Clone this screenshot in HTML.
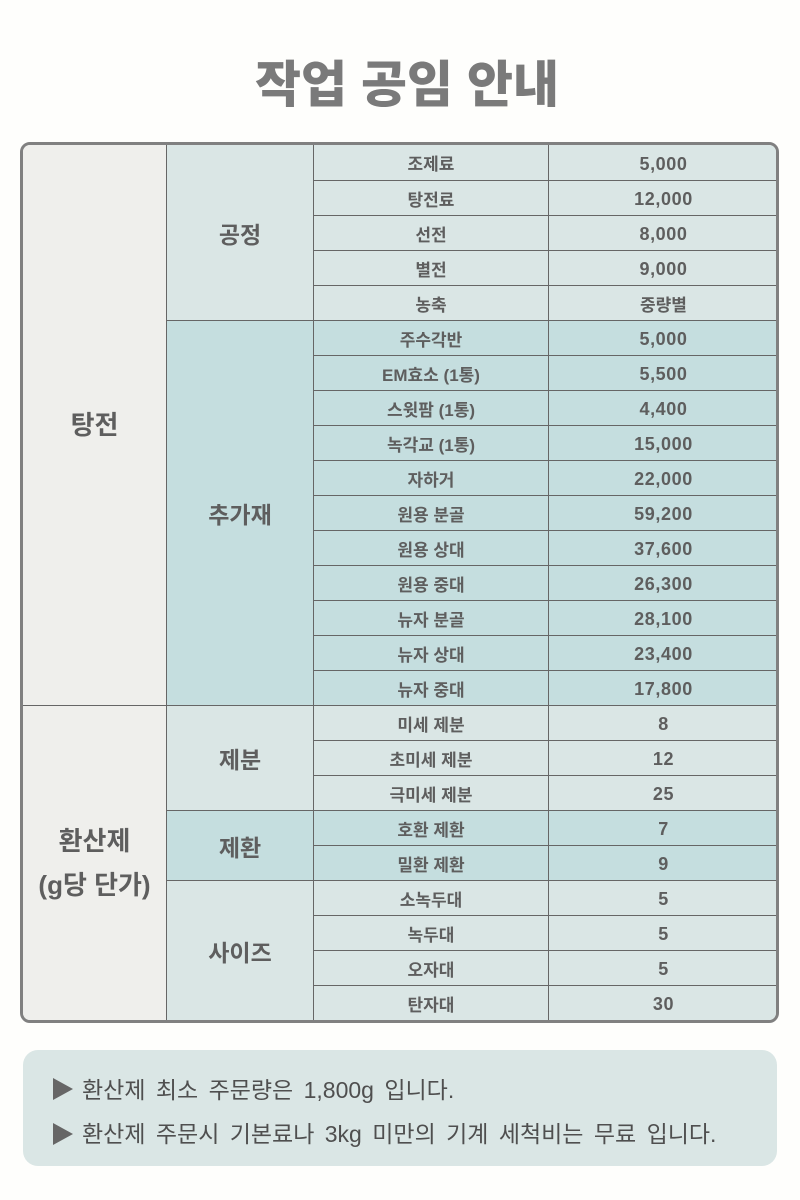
<!DOCTYPE html>
<html lang="ko">
<head>
<meta charset="utf-8">
<style>
  html,body{margin:0;padding:0;}
  body{width:800px;height:1200px;background:#fefefc;position:relative;overflow:hidden;
       font-family:"Liberation Sans","Noto Sans CJK KR",sans-serif;color:#5e5e5e;}
  .title{position:absolute;left:0;top:46px;width:800px;height:70px;line-height:70px;
         text-align:center;padding-left:14px;box-sizing:border-box;
         font-family:"Noto Sans CJK KR",sans-serif;font-weight:900;font-size:50px;color:#7a7a7a;}
  .tbl{position:absolute;left:20px;top:142px;width:759px;height:881px;box-sizing:border-box;
       border:3px solid #808080;border-radius:10px;overflow:hidden;background:#efefec;}
  .c{position:absolute;box-sizing:border-box;display:flex;align-items:center;justify-content:center;
     text-align:center;font-weight:700;font-size:17px;color:#5e5e5e;}
  .v{font-size:18px;letter-spacing:0.6px;padding-top:3px;}
  .g1{background:#efefec;font-size:26px;line-height:44px;}
  .g2{font-size:23px;}
  .lt{background:#dae6e5;}
  .dk{background:#c5dedf;}
  .bl{border-left:1px solid #666;}
  .bt{border-top:1px solid #666;}
  .note{position:absolute;left:23px;top:1050px;width:754px;height:116px;background:#dae6e5;border-radius:15px;}
  .tri{position:absolute;width:0;height:0;border-left:20px solid #666;border-top:11px solid transparent;border-bottom:11px solid transparent;}
  .nt{position:absolute;left:82px;white-space:nowrap;font-family:"Liberation Sans","Noto Sans CJK KR",sans-serif;
      font-size:23px;height:30px;line-height:30px;color:#4f4f4f;word-spacing:4px;}
</style>
</head>
<body>
<div class="title">작업 공임 안내</div>

<div class="tbl">
  <div class="c g1" style="left:0;top:0;width:143px;height:560px;">탕전</div>
  <div class="c g1 bt" style="left:0;top:560px;width:143px;height:315px;">환산제<br>(g당 단가)</div>

  <div class="c g2 lt bl" style="left:143px;top:0;width:147px;height:175px;">공정</div>
  <div class="c g2 dk bl bt" style="left:143px;top:175px;width:147px;height:385px;">추가재</div>
  <div class="c g2 lt bl bt" style="left:143px;top:560px;width:147px;height:105px;">제분</div>
  <div class="c g2 dk bl bt" style="left:143px;top:665px;width:147px;height:70px;">제환</div>
  <div class="c g2 lt bl bt" style="left:143px;top:735px;width:147px;height:140px;">사이즈</div>

  <div class="c lt bl" style="left:290px;top:0px;width:235px;height:35px;">조제료</div>
  <div class="c v lt bl" style="left:525px;top:0px;width:230px;height:35px;">5,000</div>

  <div class="c lt bl bt" style="left:290px;top:35px;width:235px;height:35px;">탕전료</div>
  <div class="c v lt bl bt" style="left:525px;top:35px;width:230px;height:35px;">12,000</div>

  <div class="c lt bl bt" style="left:290px;top:70px;width:235px;height:35px;">선전</div>
  <div class="c v lt bl bt" style="left:525px;top:70px;width:230px;height:35px;">8,000</div>

  <div class="c lt bl bt" style="left:290px;top:105px;width:235px;height:35px;">별전</div>
  <div class="c v lt bl bt" style="left:525px;top:105px;width:230px;height:35px;">9,000</div>

  <div class="c lt bl bt" style="left:290px;top:140px;width:235px;height:35px;">농축</div>
  <div class="c lt bl bt" style="left:525px;top:140px;width:230px;height:35px;">중량별</div>

  <div class="c dk bl bt" style="left:290px;top:175px;width:235px;height:35px;">주수각반</div>
  <div class="c v dk bl bt" style="left:525px;top:175px;width:230px;height:35px;">5,000</div>

  <div class="c dk bl bt" style="left:290px;top:210px;width:235px;height:35px;">EM효소 (1통)</div>
  <div class="c v dk bl bt" style="left:525px;top:210px;width:230px;height:35px;">5,500</div>

  <div class="c dk bl bt" style="left:290px;top:245px;width:235px;height:35px;">스윗팜 (1통)</div>
  <div class="c v dk bl bt" style="left:525px;top:245px;width:230px;height:35px;">4,400</div>

  <div class="c dk bl bt" style="left:290px;top:280px;width:235px;height:35px;">녹각교 (1통)</div>
  <div class="c v dk bl bt" style="left:525px;top:280px;width:230px;height:35px;">15,000</div>

  <div class="c dk bl bt" style="left:290px;top:315px;width:235px;height:35px;">자하거</div>
  <div class="c v dk bl bt" style="left:525px;top:315px;width:230px;height:35px;">22,000</div>

  <div class="c dk bl bt" style="left:290px;top:350px;width:235px;height:35px;">원용 분골</div>
  <div class="c v dk bl bt" style="left:525px;top:350px;width:230px;height:35px;">59,200</div>

  <div class="c dk bl bt" style="left:290px;top:385px;width:235px;height:35px;">원용 상대</div>
  <div class="c v dk bl bt" style="left:525px;top:385px;width:230px;height:35px;">37,600</div>

  <div class="c dk bl bt" style="left:290px;top:420px;width:235px;height:35px;">원용 중대</div>
  <div class="c v dk bl bt" style="left:525px;top:420px;width:230px;height:35px;">26,300</div>

  <div class="c dk bl bt" style="left:290px;top:455px;width:235px;height:35px;">뉴자 분골</div>
  <div class="c v dk bl bt" style="left:525px;top:455px;width:230px;height:35px;">28,100</div>

  <div class="c dk bl bt" style="left:290px;top:490px;width:235px;height:35px;">뉴자 상대</div>
  <div class="c v dk bl bt" style="left:525px;top:490px;width:230px;height:35px;">23,400</div>

  <div class="c dk bl bt" style="left:290px;top:525px;width:235px;height:35px;">뉴자 중대</div>
  <div class="c v dk bl bt" style="left:525px;top:525px;width:230px;height:35px;">17,800</div>

  <div class="c lt bl bt" style="left:290px;top:560px;width:235px;height:35px;">미세 제분</div>
  <div class="c v lt bl bt" style="left:525px;top:560px;width:230px;height:35px;">8</div>

  <div class="c lt bl bt" style="left:290px;top:595px;width:235px;height:35px;">초미세 제분</div>
  <div class="c v lt bl bt" style="left:525px;top:595px;width:230px;height:35px;">12</div>

  <div class="c lt bl bt" style="left:290px;top:630px;width:235px;height:35px;">극미세 제분</div>
  <div class="c v lt bl bt" style="left:525px;top:630px;width:230px;height:35px;">25</div>

  <div class="c dk bl bt" style="left:290px;top:665px;width:235px;height:35px;">호환 제환</div>
  <div class="c v dk bl bt" style="left:525px;top:665px;width:230px;height:35px;">7</div>

  <div class="c dk bl bt" style="left:290px;top:700px;width:235px;height:35px;">밀환 제환</div>
  <div class="c v dk bl bt" style="left:525px;top:700px;width:230px;height:35px;">9</div>

  <div class="c lt bl bt" style="left:290px;top:735px;width:235px;height:35px;">소녹두대</div>
  <div class="c v lt bl bt" style="left:525px;top:735px;width:230px;height:35px;">5</div>

  <div class="c lt bl bt" style="left:290px;top:770px;width:235px;height:35px;">녹두대</div>
  <div class="c v lt bl bt" style="left:525px;top:770px;width:230px;height:35px;">5</div>

  <div class="c lt bl bt" style="left:290px;top:805px;width:235px;height:35px;">오자대</div>
  <div class="c v lt bl bt" style="left:525px;top:805px;width:230px;height:35px;">5</div>

  <div class="c lt bl bt" style="left:290px;top:840px;width:235px;height:35px;">탄자대</div>
  <div class="c v lt bl bt" style="left:525px;top:840px;width:230px;height:35px;">30</div>
</div>

<div class="note"></div>
<div class="tri" style="left:53px;top:1078px;"></div>
<div class="nt" style="top:1075px;">환산제 최소 주문량은 1,800g 입니다.</div>
<div class="tri" style="left:53px;top:1123px;"></div>
<div class="nt" style="top:1119px;">환산제 주문시 기본료나 3kg 미만의 기계 세척비는 무료 입니다.</div>
</body>
</html>
